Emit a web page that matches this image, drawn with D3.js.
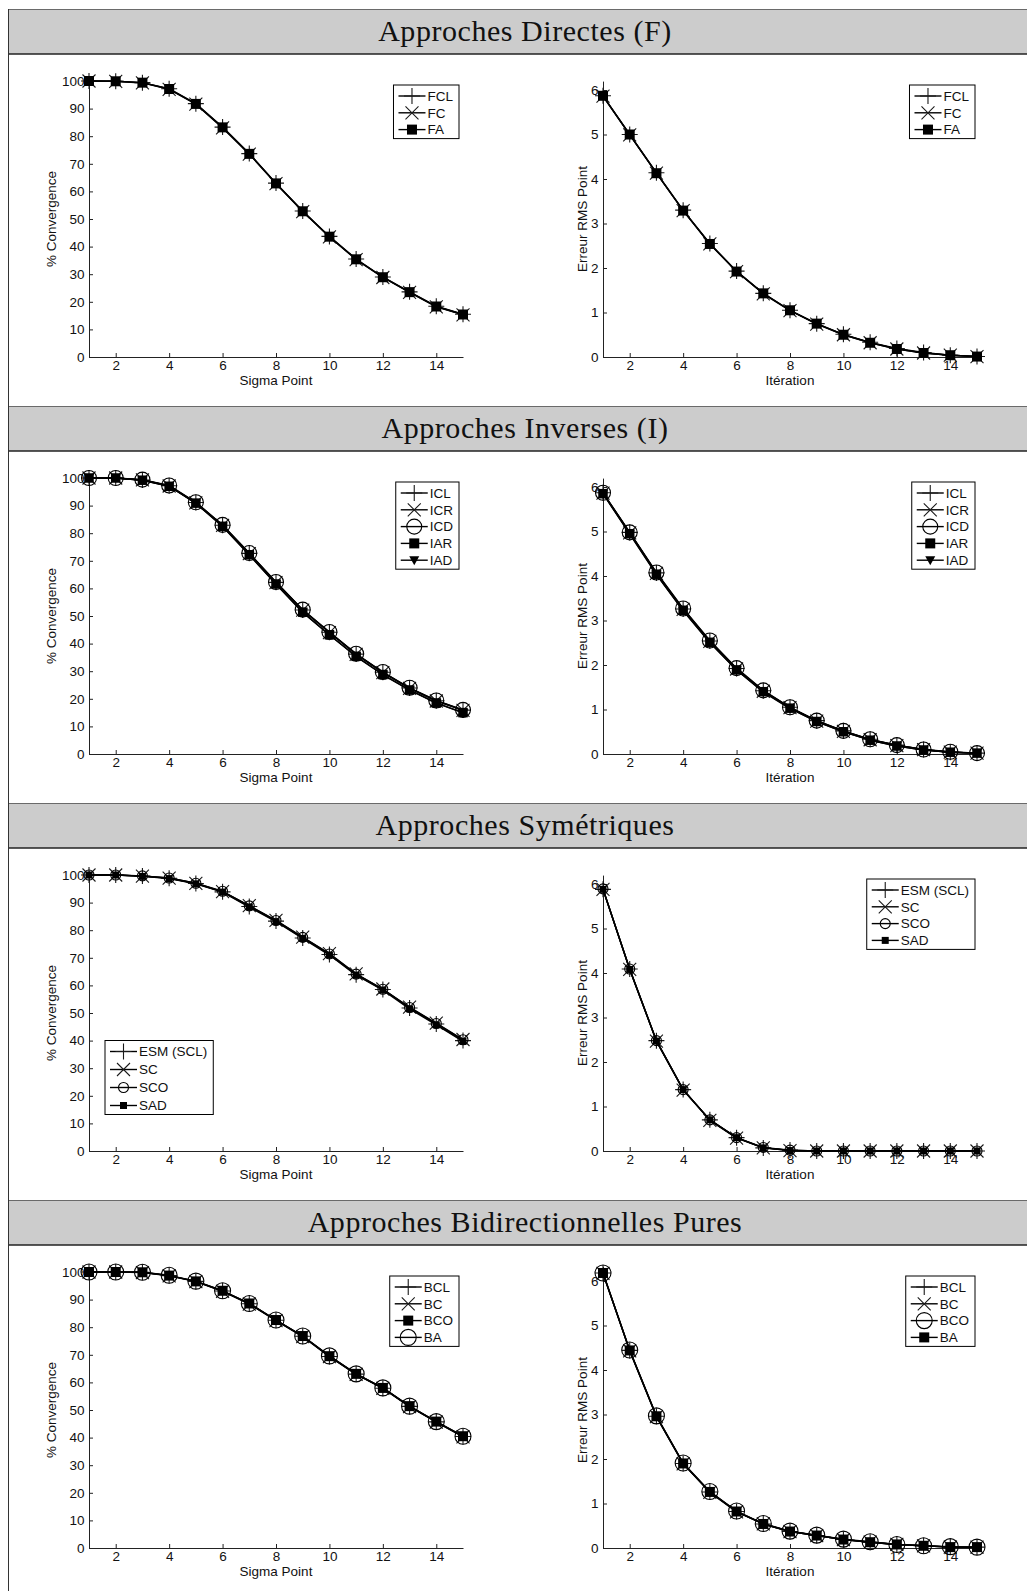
<!DOCTYPE html>
<html>
<head>
<meta charset="utf-8">
<script src="https://cdn.jsdelivr.net/npm/d3@7"></script>
<style>
  html, body { margin: 0; padding: 0; background: #fff; }
  svg { display: block; }
  text { font-family: "Liberation Sans", Arial, Helvetica, sans-serif; fill: #111; }
  .title { font-family: "Liberation Serif", "Times New Roman", serif; letter-spacing: 0.55px; }
</style>
</head>
<body>
<svg id="chart" width="1027" height="1591"></svg>
<script>
// ---- data ----
const sigmaPoints = [1, 2, 3, 4, 5, 6, 7, 8, 9, 10, 11, 12, 13, 14, 15];
const iterations  = [1, 2, 3, 4, 5, 6, 7, 8, 9, 10, 11, 12, 13, 14, 15];
const xTicks = [2, 4, 6, 8, 10, 12, 14];
const convTicks = [0, 10, 20, 30, 40, 50, 60, 70, 80, 90, 100];
const rmsTicks = [0, 1, 2, 3, 4, 5, 6];
const sectionTitles = [
  "Approches Directes (F)",
  "Approches Inverses (I)",
  "Approches Symétriques",
  "Approches Bidirectionnelles Pures"
];

// Approches Directes (F)
const directNames = ["FCL", "FC", "FA"];
const convFCL = [100, 99.9, 99.4, 97.2, 91.8, 83.3, 73.7, 63.0, 52.9, 43.7, 35.5, 29.0, 23.6, 18.4, 15.5];
const convFC  = [100, 99.9, 99.3, 97.0, 91.6, 83.0, 73.5, 62.8, 52.7, 43.5, 35.3, 28.8, 23.4, 18.2, 15.3];
const convFA  = [100, 99.9, 99.4, 97.1, 91.7, 83.2, 73.6, 62.9, 52.8, 43.6, 35.4, 28.9, 23.5, 18.3, 15.4];
const rmsFCL = [5.87, 5.00, 4.14, 3.30, 2.55, 1.93, 1.43, 1.05, 0.75, 0.51, 0.33, 0.19, 0.10, 0.04, 0.01];
const rmsFC  = [5.86, 4.99, 4.13, 3.29, 2.54, 1.92, 1.42, 1.04, 0.74, 0.50, 0.32, 0.18, 0.09, 0.04, 0.01];
const rmsFA  = [5.87, 5.00, 4.13, 3.29, 2.54, 1.92, 1.43, 1.05, 0.75, 0.50, 0.32, 0.18, 0.09, 0.04, 0.01];

// Approches Inverses (I)
const inverseNames = ["ICL", "ICR", "ICD", "IAR", "IAD"];
const convICL = [100, 100, 99.3, 97.2, 91.1, 82.9, 72.7, 62.2, 52.2, 44.1, 36.2, 29.6, 23.9, 19.3, 15.9];
const convICR = [100, 100, 99.3, 97.1, 91.0, 82.8, 72.6, 62.1, 52.1, 44.0, 36.1, 29.5, 23.8, 19.2, 15.8];
const convICD = [100, 100, 99.4, 97.3, 91.2, 83.0, 72.8, 62.3, 52.3, 44.2, 36.3, 29.7, 24.0, 19.4, 16.0];
const convIAR = [100, 100, 99.2, 97.0, 90.9, 82.5, 72.2, 61.6, 51.4, 43.2, 35.4, 28.8, 23.2, 18.5, 15.0];
const convIAD = [100, 100, 99.2, 97.0, 90.8, 82.4, 72.1, 61.5, 51.3, 43.1, 35.3, 28.7, 23.1, 18.4, 14.9];
const rmsICL = [5.87, 4.98, 4.07, 3.26, 2.54, 1.92, 1.42, 1.05, 0.75, 0.52, 0.33, 0.20, 0.10, 0.04, 0.02];
const rmsICR = [5.86, 4.97, 4.06, 3.25, 2.53, 1.91, 1.41, 1.04, 0.74, 0.51, 0.32, 0.19, 0.10, 0.04, 0.02];
const rmsICD = [5.87, 4.98, 4.08, 3.27, 2.55, 1.93, 1.43, 1.05, 0.75, 0.52, 0.33, 0.20, 0.10, 0.05, 0.02];
const rmsIAR = [5.85, 4.95, 4.04, 3.23, 2.51, 1.89, 1.40, 1.03, 0.73, 0.50, 0.31, 0.18, 0.09, 0.04, 0.02];
const rmsIAD = [5.85, 4.94, 4.03, 3.22, 2.50, 1.89, 1.39, 1.02, 0.73, 0.50, 0.31, 0.18, 0.09, 0.04, 0.02];

// Approches Symétriques
const symNames = ["ESM (SCL)", "SC", "SCO", "SAD"];
const convESM = [100, 100, 99.6, 98.8, 96.9, 93.9, 88.6, 83.3, 77.2, 71.2, 63.9, 58.5, 51.8, 46.0, 40.0];
const convSC  = [100, 100, 99.6, 98.9, 97.0, 94.0, 88.9, 83.6, 77.5, 71.5, 64.2, 58.7, 52.1, 46.3, 40.4];
const convSCO = [100, 100, 99.7, 98.9, 97.0, 94.1, 88.8, 83.5, 77.4, 71.4, 64.1, 58.6, 52.0, 46.2, 40.3];
const convSAD = [100, 100, 99.5, 98.7, 96.8, 93.8, 88.4, 83.1, 77.0, 71.0, 63.7, 58.3, 51.5, 45.7, 39.7];
const rmsESM = [5.88, 4.09, 2.48, 1.38, 0.70, 0.30, 0.07, 0.02, 0, 0, 0, 0, 0, 0, 0];
const rmsSC  = [5.88, 4.08, 2.47, 1.37, 0.69, 0.29, 0.07, 0.01, 0, 0, 0, 0, 0, 0, 0];
const rmsSCO = [5.89, 4.09, 2.48, 1.38, 0.70, 0.30, 0.08, 0.02, 0, 0, 0, 0, 0, 0, 0];
const rmsSAD = [5.88, 4.08, 2.47, 1.38, 0.70, 0.30, 0.07, 0.01, 0, 0, 0, 0, 0, 0, 0];

// Approches Bidirectionnelles Pures
const bidirNames = ["BCL", "BC", "BCO", "BA"];
const convBCL = [100, 100, 99.9, 98.7, 96.6, 93.1, 88.5, 82.5, 76.7, 69.4, 63.0, 57.9, 51.3, 45.7, 40.4];
const convBC  = [100, 100, 99.8, 98.6, 96.5, 93.0, 88.4, 82.4, 76.6, 69.3, 62.9, 57.8, 51.2, 45.6, 40.3];
const convBCO = [100, 100, 99.9, 98.7, 96.6, 93.2, 88.6, 82.6, 76.8, 69.5, 63.1, 58.0, 51.4, 45.8, 40.5];
const convBA  = [100, 100, 99.9, 98.8, 96.7, 93.2, 88.6, 82.6, 76.8, 69.6, 63.1, 58.0, 51.4, 45.8, 40.5];
const rmsBCL = [6.18, 4.44, 2.96, 1.90, 1.26, 0.82, 0.54, 0.37, 0.28, 0.19, 0.13, 0.08, 0.05, 0.02, 0.02];
const rmsBC  = [6.17, 4.43, 2.95, 1.89, 1.25, 0.81, 0.54, 0.37, 0.28, 0.19, 0.13, 0.08, 0.05, 0.02, 0.02];
const rmsBCO = [6.18, 4.45, 2.97, 1.91, 1.27, 0.83, 0.55, 0.38, 0.29, 0.20, 0.14, 0.08, 0.05, 0.03, 0.02];
const rmsBA  = [6.18, 4.44, 2.96, 1.90, 1.26, 0.82, 0.54, 0.37, 0.28, 0.19, 0.13, 0.08, 0.05, 0.02, 0.02];

// ---- layout ----
const W = 1027;
const frameX = 8.5;
const sectionTop = 9;
const sectionStep = 397;
const headerH = 45;
const baseOffset = 348;          // x axis line relative to section top
const convPx = 2.76;             // pixels per % convergence
const rmsPx = 44.5;              // pixels per RMS unit
const leftX = [89, 463];
const rightX = [603, 977];
const fontSize = 13.5;

// marker shapes: plus, cross, square, circle, tri
const M = (type, size) => ({ type, size });

const sections = [
  {
    left:  { names: directNames, series: [convFCL, convFC, convFA],
             markers: [M("plus", 16), M("cross", 13), M("square", 10)],
             legendMarkers: [M("plus", 16), M("cross", 13), M("square", 10)],
             legend: { anchor: "right", x: 459 }, ymax: 101.5 },
    right: { names: directNames, series: [rmsFCL, rmsFC, rmsFA],
             markers: [M("plus", 16), M("cross", 13), M("square", 10)],
             legendMarkers: [M("plus", 16), M("cross", 13), M("square", 10)],
             legend: { anchor: "right", x: 975 }, ymax: 6.2 }
  },
  {
    left:  { names: inverseNames, series: [convICL, convICR, convICD, convIAR, convIAD],
             markers: [M("plus", 16), M("cross", 13), M("circle", 15), M("square", 9.5), M("tri", 10)],
             legendMarkers: [M("plus", 16), M("cross", 13), M("circle", 15), M("square", 10), M("tri", 10)],
             legend: { anchor: "right", x: 459 }, ymax: 101.5 },
    right: { names: inverseNames, series: [rmsICL, rmsICR, rmsICD, rmsIAR, rmsIAD],
             markers: [M("plus", 16), M("cross", 13), M("circle", 15), M("square", 9.5), M("tri", 10)],
             legendMarkers: [M("plus", 16), M("cross", 13), M("circle", 15), M("square", 10), M("tri", 10)],
             legend: { anchor: "right", x: 975 }, ymax: 6.2 }
  },
  {
    left:  { names: symNames, series: [convESM, convSC, convSCO, convSAD],
             markers: [M("plus", 16), M("cross", 13), M("circle", 10), M("square", 7)],
             legendMarkers: [M("plus", 16), M("cross", 13), M("circle", 10), M("square", 7)],
             legend: { anchor: "left", x: 105, yTop: 1040.5, step: 18 }, ymax: 101.5 },
    right: { names: symNames, series: [rmsESM, rmsSC, rmsSCO, rmsSAD],
             markers: [M("plus", 16), M("cross", 13), M("circle", 10), M("square", 7)],
             legendMarkers: [M("plus", 16), M("cross", 13), M("circle", 10), M("square", 7)],
             legend: { anchor: "right", x: 975 }, ymax: 6.2 }
  },
  {
    left:  { names: bidirNames, series: [convBCL, convBC, convBCO, convBA],
             markers: [M("plus", 16), M("cross", 13), M("square", 10), M("circle", 16)],
             legendMarkers: [M("plus", 16), M("cross", 13), M("square", 10), M("circle", 16)],
             legend: { anchor: "right", x: 459 }, ymax: 101.5 },
    right: { names: bidirNames, series: [rmsBCL, rmsBC, rmsBCO, rmsBA],
             markers: [M("plus", 16), M("cross", 13), M("circle", 16), M("square", 10)],
             legendMarkers: [M("plus", 16), M("cross", 13), M("circle", 16), M("square", 10)],
             legend: { anchor: "right", x: 975 }, ymax: 6.33 }
  }
];

const svg = d3.select("#chart");

function drawMarker(g, m) {
  const s = m.size, h = s / 2;
  if (m.type === "plus") {
    g.append("path").attr("d", `M${-h},0H${h}M0,${-h}V${h}`)
      .attr("stroke", "#1a1a1a").attr("stroke-width", 1.1).attr("fill", "none");
  } else if (m.type === "cross") {
    g.append("path").attr("d", `M${-h},${-h}L${h},${h}M${-h},${h}L${h},${-h}`)
      .attr("stroke", "#1a1a1a").attr("stroke-width", 1.1).attr("fill", "none");
  } else if (m.type === "square") {
    g.append("rect").attr("x", -h).attr("y", -h).attr("width", s).attr("height", s)
      .attr("fill", "#000");
  } else if (m.type === "circle") {
    g.append("circle").attr("r", h).attr("fill", "none")
      .attr("stroke", "#000").attr("stroke-width", 1.1);
  } else if (m.type === "tri") {
    g.append("path").attr("d", `M${-h},${-h * 0.8}L${h},${-h * 0.8}L0,${h}Z`)
      .attr("fill", "#000");
  }
}

function drawPanel(top, cfg, isConv) {
  const yBase = top + baseOffset;
  const px = isConv ? convPx : rmsPx;
  const xr = isConv ? leftX : rightX;
  const xs = isConv ? sigmaPoints : iterations;
  const x = d3.scaleLinear().domain([1, 15]).range(xr);
  const y = d3.scaleLinear().domain([0, cfg.ymax]).range([yBase, yBase - cfg.ymax * px]);

  const g = svg.append("g");

  // axes (left and bottom only, ticks pointing inward)
  const ax = g.append("g").attr("transform", `translate(0,${yBase})`)
    .call(d3.axisBottom(x).tickValues(xTicks).tickFormat(d3.format("d"))
      .tickSizeInner(-4).tickSizeOuter(0).tickPadding(3.6));
  const ay = g.append("g").attr("transform", `translate(${xr[0]},0)`)
    .call(d3.axisLeft(y).tickValues(isConv ? convTicks : rmsTicks).tickFormat(d3.format("d"))
      .tickSizeInner(-4).tickSizeOuter(0).tickPadding(4.5));
  [ax, ay].forEach(a => {
    a.attr("font-family", null).attr("font-size", null);
    a.selectAll("path.domain").attr("stroke", "#222").attr("stroke-width", 1);
    a.selectAll(".tick line").attr("stroke", "#222").attr("stroke-width", 1);
    a.selectAll(".tick text").attr("font-size", fontSize).attr("fill", "#111");
  });

  // axis titles
  g.append("text").attr("x", (xr[0] + xr[1]) / 2).attr("y", yBase + 28.2)
    .attr("text-anchor", "middle").attr("font-size", fontSize)
    .text(isConv ? "Sigma Point" : "Itération");
  const ly = (yBase + (yBase - 276)) / 2;
  const lx = isConv ? xr[0] - 33.5 : xr[0] - 15.8;
  g.append("text").attr("transform", `translate(${lx},${ly}) rotate(-90)`)
    .attr("text-anchor", "middle").attr("font-size", fontSize)
    .text(isConv ? "% Convergence" : "Erreur RMS Point");

  // series: line then markers, in order
  const line = d3.line().x((d, i) => x(xs[i])).y(d => y(d));
  cfg.series.forEach((vals, si) => {
    const sg = g.append("g");
    sg.append("path").attr("d", line(vals)).attr("fill", "none")
      .attr("stroke", "#000").attr("stroke-width", 1.4).attr("stroke-linejoin", "round");
    vals.forEach((v, i) => {
      const mg = sg.append("g").attr("transform", `translate(${x(xs[i])},${y(v)})`);
      drawMarker(mg, cfg.markers[si]);
    });
  });

  // legend
  const L = cfg.legend;
  const step = L.step || 16.8;
  const n = cfg.names.length;
  const lg = g.append("g");
  const box = lg.append("rect").attr("fill", "#fff").attr("stroke", "#000").attr("stroke-width", 1);
  const texts = [];
  cfg.names.forEach((name) => {
    texts.push(lg.append("text").attr("font-size", fontSize).attr("dy", "0.35em").text(name));
  });
  const maxW = d3.max(texts, t => t.node().getComputedTextLength());
  const bw = 34 + maxW + 6;
  const bh = 11 + (n - 1) * step + 9;
  const bx = L.anchor === "right" ? L.x - bw : L.x;
  const by = L.yTop !== undefined ? L.yTop : yBase - 276 + 4;
  box.attr("x", bx).attr("y", by).attr("width", bw).attr("height", bh);
  cfg.names.forEach((name, i) => {
    const cy = by + 11 + i * step;
    lg.append("line").attr("x1", bx + 5).attr("x2", bx + 32).attr("y1", cy).attr("y2", cy)
      .attr("stroke", "#000").attr("stroke-width", 1.4);
    drawMarker(lg.append("g").attr("transform", `translate(${bx + 18.5},${cy})`), cfg.legendMarkers[i]);
    texts[i].attr("x", bx + 34).attr("y", cy);
  });
}

sections.forEach((sec, k) => {
  const top = sectionTop + k * sectionStep;
  // header band
  svg.append("rect").attr("x", frameX).attr("y", top).attr("width", W - frameX + 5).attr("height", headerH)
    .attr("fill", "#cccccc");
  svg.append("line").attr("x1", frameX).attr("x2", W + 5).attr("y1", top + 0.5).attr("y2", top + 0.5)
    .attr("stroke", "#6a6a6a").attr("stroke-width", 1);
  svg.append("line").attr("x1", frameX).attr("x2", W + 5).attr("y1", top + headerH).attr("y2", top + headerH)
    .attr("stroke", "#222").attr("stroke-width", 1.5);
  svg.append("text").attr("class", "title").attr("x", 525).attr("y", top + 32)
    .attr("text-anchor", "middle").attr("font-size", 30).attr("fill", "#111")
    .text(sectionTitles[k]);

  drawPanel(top, sec.left, true);
  drawPanel(top, sec.right, false);
});

// frame left edge
svg.append("line").attr("x1", frameX).attr("x2", frameX).attr("y1", sectionTop).attr("y2", 1591)
  .attr("stroke", "#333").attr("stroke-width", 1);
</script>
</body>
</html>
